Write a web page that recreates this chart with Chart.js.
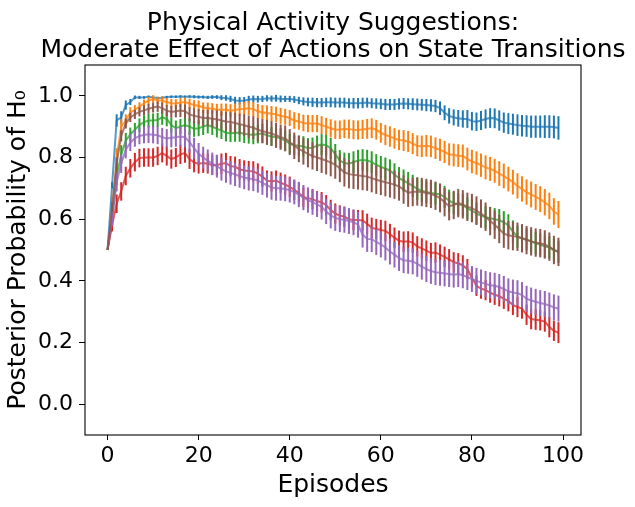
<!DOCTYPE html>
<html>
<head>
<meta charset="utf-8">
<script src="https://cdn.jsdelivr.net/npm/chart.js@4.4.0/dist/chart.umd.min.js"></script>
<style>
  body { margin: 0; background: #fff; }
  canvas { display: block; }
</style>
</head>
<body>
<canvas id="chart" width="635" height="507"></canvas>
<script>
// episodes 0..99
const episodes = Array.from({ length: 100 }, (_, i) => i);
const xTicks = [0, 20, 40, 60, 80, 100];
const yTicks = [0.0, 0.2, 0.4, 0.6, 0.8, 1.0];
const titleLines = ['Physical Activity Suggestions:', 'Moderate Effect of Actions on State Transitions'];

// mean posterior probability
const blueMean = [0.50,0.71,0.92,0.93,0.97,0.98,0.995,0.995,0.995,0.997, 0.995,0.993,0.994,0.996,0.997,0.997,0.998,0.997,0.998,0.997, 0.996,0.996,0.995,0.996,0.996,0.994,0.993,0.99,0.985,0.984, 0.984,0.988,0.99,0.989,0.99,0.992,0.991,0.992,0.99,0.99, 0.99,0.988,0.985,0.982,0.98,0.979,0.978,0.978,0.979,0.979, 0.978,0.978,0.978,0.976,0.976,0.976,0.977,0.978,0.976,0.975, 0.974,0.972,0.972,0.972,0.974,0.975,0.974,0.973,0.972,0.971, 0.97,0.969,0.967,0.96,0.945,0.935,0.93,0.927,0.925,0.925, 0.918,0.916,0.92,0.925,0.928,0.927,0.92,0.913,0.91,0.908, 0.905,0.903,0.902,0.9,0.9,0.9,0.9,0.9,0.899,0.896];
const orangeMean = [0.50,0.62,0.80,0.90,0.92,0.945,0.955,0.965,0.975,0.985, 0.99,0.985,0.985,0.98,0.976,0.975,0.978,0.98,0.975,0.97, 0.968,0.962,0.96,0.958,0.955,0.955,0.955,0.952,0.954,0.957, 0.958,0.96,0.957,0.95,0.946,0.944,0.942,0.94,0.935,0.932, 0.928,0.92,0.917,0.912,0.91,0.91,0.91,0.905,0.90,0.895, 0.89,0.89,0.893,0.892,0.89,0.889,0.891,0.893,0.895,0.89, 0.88,0.873,0.868,0.862,0.857,0.855,0.852,0.845,0.838,0.836, 0.838,0.836,0.83,0.825,0.818,0.81,0.808,0.806,0.805,0.795, 0.787,0.782,0.775,0.768,0.763,0.757,0.748,0.74,0.73,0.72, 0.708,0.698,0.688,0.68,0.672,0.665,0.655,0.643,0.625,0.615];
const greenMean = [0.50,0.60,0.74,0.81,0.855,0.875,0.89,0.905,0.915,0.92, 0.92,0.922,0.93,0.925,0.905,0.895,0.90,0.905,0.90,0.893, 0.895,0.90,0.905,0.90,0.893,0.888,0.88,0.879,0.88,0.88, 0.877,0.875,0.873,0.876,0.878,0.872,0.868,0.866,0.862,0.855, 0.845,0.84,0.838,0.836,0.83,0.832,0.838,0.842,0.84,0.83, 0.81,0.79,0.782,0.78,0.785,0.79,0.792,0.79,0.785,0.776, 0.77,0.764,0.758,0.745,0.733,0.725,0.717,0.708,0.698,0.692, 0.688,0.685,0.683,0.68,0.672,0.66,0.652,0.648,0.645,0.635, 0.628,0.618,0.612,0.606,0.603,0.60,0.597,0.59,0.58,0.56, 0.543,0.538,0.535,0.528,0.522,0.518,0.512,0.508,0.50,0.494];
const redMean = [0.50,0.58,0.65,0.69,0.74,0.765,0.785,0.798,0.80,0.80, 0.80,0.805,0.815,0.805,0.795,0.80,0.81,0.815,0.795,0.784, 0.78,0.782,0.78,0.775,0.775,0.78,0.782,0.772,0.77,0.762, 0.758,0.756,0.755,0.748,0.738,0.725,0.722,0.725,0.718,0.712, 0.705,0.695,0.685,0.672,0.668,0.665,0.658,0.655,0.645,0.63, 0.618,0.612,0.608,0.60,0.597,0.597,0.596,0.585,0.572,0.568, 0.565,0.562,0.552,0.54,0.53,0.527,0.528,0.524,0.512,0.505, 0.498,0.49,0.492,0.485,0.478,0.47,0.46,0.457,0.45,0.438, 0.41,0.384,0.375,0.37,0.362,0.355,0.35,0.342,0.334,0.322, 0.315,0.31,0.29,0.276,0.274,0.272,0.268,0.25,0.238,0.232];
const purpleMean = [0.50,0.60,0.72,0.78,0.825,0.848,0.862,0.87,0.873,0.875, 0.874,0.872,0.866,0.862,0.864,0.866,0.868,0.866,0.85,0.83, 0.812,0.80,0.79,0.78,0.772,0.762,0.755,0.75,0.745,0.74, 0.735,0.732,0.73,0.725,0.718,0.71,0.703,0.70,0.70,0.698, 0.694,0.688,0.68,0.67,0.662,0.655,0.648,0.64,0.625,0.612, 0.604,0.60,0.598,0.594,0.59,0.582,0.55,0.536,0.535,0.526, 0.518,0.508,0.495,0.485,0.474,0.467,0.465,0.463,0.455,0.446, 0.438,0.432,0.428,0.426,0.424,0.422,0.42,0.422,0.418,0.412, 0.406,0.40,0.395,0.39,0.386,0.384,0.38,0.374,0.366,0.362, 0.36,0.354,0.342,0.336,0.332,0.328,0.325,0.32,0.314,0.31];
const brownMean = [0.50,0.64,0.78,0.87,0.91,0.93,0.94,0.948,0.953,0.958, 0.962,0.965,0.96,0.952,0.948,0.95,0.952,0.95,0.94,0.935, 0.932,0.928,0.928,0.926,0.924,0.92,0.917,0.915,0.912,0.908, 0.905,0.90,0.897,0.89,0.885,0.882,0.878,0.872,0.866,0.862, 0.85,0.838,0.828,0.82,0.812,0.805,0.80,0.795,0.79,0.784, 0.776,0.765,0.752,0.746,0.744,0.742,0.74,0.738,0.733,0.728, 0.724,0.72,0.716,0.712,0.706,0.696,0.686,0.688,0.69,0.688, 0.685,0.682,0.676,0.668,0.655,0.642,0.646,0.652,0.648,0.64, 0.636,0.628,0.618,0.608,0.594,0.582,0.568,0.553,0.548,0.545, 0.543,0.538,0.532,0.528,0.524,0.522,0.518,0.511,0.50,0.494];

// error bar half-lengths
const blueErr = [0,0.01,0.02,0.02,0.015,0.01,0.006,0.005,0.004,0.004, 0.004,0.004,0.004,0.004,0.004,0.004,0.004,0.004,0.004,0.005, 0.005,0.005,0.005,0.006,0.006,0.008,0.009,0.01,0.012,0.012, 0.012,0.012,0.011,0.011,0.01,0.01,0.01,0.011,0.011,0.01, 0.01,0.011,0.012,0.013,0.014,0.015,0.015,0.015,0.015,0.016, 0.016,0.016,0.016,0.016,0.017,0.017,0.017,0.016,0.016,0.017, 0.017,0.018,0.018,0.018,0.018,0.018,0.018,0.019,0.019,0.019, 0.02,0.02,0.02,0.022,0.024,0.025,0.026,0.027,0.028,0.029, 0.03,0.03,0.031,0.031,0.032,0.032,0.033,0.033,0.034,0.034, 0.035,0.035,0.035,0.036,0.036,0.036,0.037,0.037,0.037,0.038];
const orangeErr = [0,0.02,0.03,0.025,0.02,0.018,0.015,0.014,0.013,0.012, 0.012,0.012,0.013,0.013,0.014,0.014,0.015,0.015,0.016,0.016, 0.017,0.017,0.018,0.018,0.019,0.02,0.02,0.021,0.021,0.022, 0.022,0.023,0.023,0.024,0.024,0.025,0.025,0.025,0.026,0.026, 0.026,0.027,0.027,0.027,0.028,0.028,0.028,0.029,0.029,0.029, 0.03,0.03,0.03,0.031,0.031,0.031,0.031,0.032,0.032,0.032, 0.032,0.033,0.033,0.033,0.033,0.034,0.034,0.034,0.034,0.035, 0.035,0.035,0.035,0.036,0.036,0.036,0.037,0.037,0.037,0.037, 0.038,0.038,0.038,0.039,0.039,0.039,0.04,0.04,0.04,0.04, 0.041,0.041,0.041,0.042,0.042,0.042,0.043,0.043,0.043,0.044];
const greenErr = [0,0.02,0.03,0.03,0.025,0.022,0.022,0.022,0.022,0.022, 0.023,0.023,0.024,0.024,0.024,0.025,0.025,0.025,0.026,0.026, 0.026,0.027,0.027,0.027,0.028,0.028,0.028,0.029,0.029,0.029, 0.03,0.03,0.03,0.03,0.031,0.031,0.031,0.031,0.032,0.032, 0.032,0.032,0.033,0.033,0.033,0.033,0.033,0.034,0.034,0.034, 0.034,0.034,0.034,0.035,0.035,0.035,0.035,0.035,0.035,0.035, 0.035,0.036,0.036,0.036,0.036,0.036,0.036,0.036,0.036,0.036, 0.036,0.036,0.036,0.036,0.036,0.036,0.036,0.036,0.036,0.036, 0.036,0.036,0.036,0.036,0.036,0.036,0.036,0.036,0.036,0.036, 0.036,0.036,0.036,0.036,0.036,0.036,0.036,0.036,0.036,0.036];
const redErr = [0,0.02,0.03,0.03,0.03,0.03,0.03,0.03,0.03,0.03, 0.03,0.03,0.031,0.031,0.031,0.031,0.031,0.032,0.032,0.032, 0.032,0.032,0.032,0.032,0.033,0.033,0.033,0.033,0.033,0.033, 0.033,0.033,0.033,0.033,0.033,0.033,0.033,0.033,0.033,0.033, 0.033,0.033,0.033,0.033,0.033,0.033,0.033,0.033,0.033,0.033, 0.033,0.033,0.033,0.033,0.033,0.033,0.033,0.033,0.033,0.033, 0.033,0.033,0.033,0.033,0.033,0.033,0.033,0.033,0.033,0.033, 0.033,0.033,0.033,0.033,0.033,0.033,0.033,0.033,0.033,0.033, 0.033,0.033,0.033,0.033,0.033,0.033,0.033,0.033,0.033,0.033, 0.033,0.033,0.033,0.033,0.033,0.033,0.033,0.033,0.033,0.034];
const purpleErr = [0,0.02,0.03,0.03,0.028,0.027,0.027,0.027,0.027,0.028, 0.028,0.029,0.03,0.03,0.031,0.031,0.032,0.033,0.034,0.034, 0.035,0.035,0.036,0.036,0.037,0.037,0.037,0.038,0.038,0.038, 0.038,0.039,0.039,0.039,0.039,0.04,0.04,0.04,0.04,0.04, 0.04,0.04,0.041,0.041,0.041,0.041,0.041,0.041,0.041,0.042, 0.042,0.042,0.042,0.042,0.042,0.042,0.042,0.042,0.042,0.042, 0.042,0.042,0.042,0.042,0.042,0.042,0.042,0.042,0.042,0.042, 0.042,0.042,0.042,0.042,0.042,0.042,0.042,0.042,0.042,0.042, 0.042,0.042,0.042,0.042,0.042,0.042,0.042,0.042,0.042,0.042, 0.042,0.042,0.042,0.042,0.042,0.042,0.042,0.042,0.042,0.042];
const brownErr = [0,0.015,0.02,0.018,0.016,0.015,0.015,0.015,0.016,0.016, 0.016,0.017,0.018,0.018,0.019,0.02,0.021,0.022,0.023,0.024, 0.025,0.026,0.027,0.028,0.029,0.03,0.031,0.032,0.033,0.034, 0.035,0.036,0.037,0.038,0.039,0.04,0.04,0.041,0.041,0.042, 0.042,0.043,0.043,0.043,0.044,0.044,0.044,0.045,0.045,0.045, 0.045,0.045,0.046,0.046,0.046,0.046,0.046,0.046,0.046,0.046, 0.046,0.046,0.046,0.046,0.046,0.046,0.046,0.046,0.046,0.046, 0.046,0.046,0.046,0.046,0.046,0.046,0.046,0.046,0.046,0.046, 0.046,0.046,0.046,0.046,0.046,0.046,0.046,0.046,0.046,0.046, 0.046,0.046,0.046,0.046,0.046,0.046,0.046,0.046,0.046,0.046];

const series = [
  { mean: blueMean, err: blueErr, color: '31, 119, 180' },
  { mean: orangeMean, err: orangeErr, color: '255, 127, 14' },
  { mean: greenMean, err: greenErr, color: '44, 160, 44' },
  { mean: redMean, err: redErr, color: '214, 39, 40' },
  { mean: purpleMean, err: purpleErr, color: '148, 103, 189' },
  { mean: brownMean, err: brownErr, color: '140, 86, 75' },
];

const FONT = "'DejaVu Sans', sans-serif";

// vertical error bars drawn just before each line, via the y scale
const errorBars = {
  id: 'errorBars',
  beforeDatasetDraw(chart, args) {
    const ds = chart.data.datasets[args.index];
    const xs = chart.scales.x, ys = chart.scales.y;
    const ctx = chart.ctx;
    ctx.save();
    ctx.strokeStyle = 'rgb(' + ds.rgb + ')';
    ctx.lineWidth = 2;
    ds.data.forEach((p, i) => {
      const e = ds.err[i];
      if (!e) return;
      const px = xs.getPixelForValue(p.x);
      ctx.beginPath();
      ctx.moveTo(px, ys.getPixelForValue(p.y - e));
      ctx.lineTo(px, ys.getPixelForValue(p.y + e));
      ctx.stroke();
    });
    ctx.restore();
  }
};

// box around the plot like matplotlib spines, plus the title centred over the axes
const frame = {
  id: 'frame',
  afterDraw(chart) {
    const a = chart.chartArea, ctx = chart.ctx;
    ctx.save();
    ctx.strokeStyle = '#000';
    ctx.lineWidth = 1.1;
    ctx.strokeRect(a.left, a.top, a.right - a.left, a.bottom - a.top);
    ctx.fillStyle = '#000';
    ctx.font = '25px ' + FONT;
    ctx.textAlign = 'center';
    ctx.textBaseline = 'alphabetic';
    const cx = (a.left + a.right) / 2;
    ctx.fillText(titleLines[0], cx, 30);
    ctx.fillText(titleLines[1], cx, 57);
    ctx.restore();
  }
};

const ctx = document.getElementById('chart').getContext('2d');
new Chart(ctx, {
  type: 'line',
  data: {
    datasets: series.map((s, i) => ({
      data: episodes.map((ep, j) => ({ x: ep, y: s.mean[j] })),
      err: s.err,
      rgb: s.color,
      borderColor: 'rgba(' + s.color + ', 0.75)',
      borderWidth: 2,
      pointRadius: 0,
      tension: 0,
      fill: false,
      order: series.length - 1 - i,
    }))
  },
  options: {
    responsive: false,
    animation: false,
    devicePixelRatio: 1,
    layout: { padding: { left: 0, right: 54, top: 65, bottom: 0 } },
    plugins: {
      legend: { display: false },
      tooltip: { enabled: false },
      title: { display: false },
    },
    scales: {
      x: {
        type: 'linear',
        min: -4.95,
        max: 103.95,
        afterBuildTicks: (s) => { s.ticks = xTicks.map(v => ({ value: v })); },
        afterFit: (s) => { s.height = 72; },
        border: { display: false },
        grid: { drawOnChartArea: false, drawTicks: true, tickLength: 5, color: '#000', lineWidth: 1 },
        ticks: { color: '#000', padding: 3, font: { family: FONT, size: 22 }, maxRotation: 0,
          callback: (v) => String(v) },
        title: { display: true, text: 'Episodes', color: '#000', padding: { top: 4, bottom: 7 },
          font: { family: FONT, size: 25, lineHeight: 1.2 } },
      },
      y: {
        type: 'linear',
        min: -0.1,
        max: 1.1,
        afterBuildTicks: (s) => { s.ticks = yTicks.map(v => ({ value: v })); },
        afterFit: (s) => { s.width = 85; },
        border: { display: false },
        grid: { drawOnChartArea: false, drawTicks: true, tickLength: 6, color: '#000', lineWidth: 1 },
        ticks: { color: '#000', padding: 6, font: { family: FONT, size: 22 },
          callback: (v) => Number(v).toFixed(1) },
        title: { display: true, text: 'Posterior Probability of H₀', color: '#000', padding: { top: 3, bottom: 0 },
          font: { family: FONT, size: 25, lineHeight: 1.2 } },
      },
    },
  },
  plugins: [errorBars, frame],
});
</script>
</body>
</html>
